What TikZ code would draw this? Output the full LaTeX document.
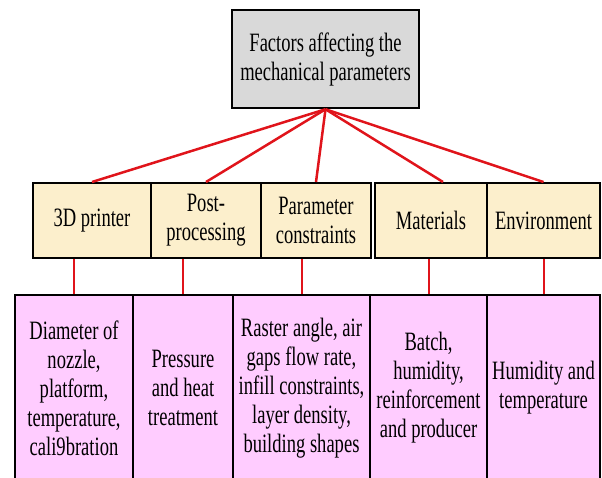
\documentclass[tikz,border=0pt]{standalone}
\usepackage{fontspec}
\setmainfont{Liberation Serif}
\newfontfamily\narrowserif{Liberation Serif}[FakeStretch=0.70]
\usepackage{tikz}
\usetikzlibrary{calc}
\tikzstyle{head} = [draw, line width=2.5pt, fill=HeadGray, minimum width=187pt, minimum height=98pt, align=center]
\tikzstyle{factor} = [draw, line width=2pt, fill=FactorCream, minimum height=75pt, align=center, inner sep=0pt]
\tikzstyle{detail} = [draw, line width=2pt, fill=DetailPink, minimum height=186pt, align=center, inner sep=0pt]
\tikzstyle{link} = [LinkRed, line width=2.5pt]
\definecolor{HeadGray}{HTML}{D9D9D9}
\definecolor{FactorCream}{HTML}{FCEFCC}
\definecolor{DetailPink}{HTML}{FFCCFF}
\definecolor{LinkRed}{HTML}{E0141B}
\newcommand{\boxfont}{\narrowserif\fontsize{26.5}{29}\selectfont}

\begin{document}
\begin{tikzpicture}[x=1pt, y=-1pt, every node/.style={font=\boxfont}]
	\clip (0,0) rectangle (602,478);
	\useasboundingbox (0,0) rectangle (602,478);

	% top
	\node[head] (head) at (325.5,59) {Factors affecting the\\mechanical parameters};

	% factors
	\node[factor, minimum width=118pt] (printer) at (92,220.5) {3D printer};
	\node[factor, minimum width=110pt] (post) at (206,220.5) {Post-\\processing};
	\node[factor, minimum width=110pt] (param) at (316,220.5) {Parameter\\constraints};
	\node[factor, minimum width=112pt] (mat) at (431,220.5) {Materials};
	\node[factor, minimum width=113pt] (env) at (543.5,220.5) {Environment};

	% details
	\node[detail, minimum width=118pt] (dprinter) at (74,388) {Diameter of\\nozzle,\\platform,\\temperature,\\cali9bration};
	\node[detail, minimum width=100pt] (dpost) at (183,388) {Pressure\\and heat\\treatment};
	\node[detail, minimum width=137pt] (dparam) at (301.5,388) {Raster angle, air\\gaps flow rate,\\infill constraints,\\layer density,\\building shapes};
	\node[detail, minimum width=117pt] (dmat) at (428.5,388) {Batch,\\humidity,\\reinforcement\\and producer};
	\node[detail, minimum width=113pt] (denv) at (543.5,388) {Humidity and\\temperature};

	% links
	\foreach \f in {printer,post,param,env} {
		\draw[link] (head.south) -- (\f.north);
	}
	\draw[link] (head.south) -- ([xshift=12pt]mat.north);
	\foreach \f/\d in {printer/dprinter,post/dpost,param/dparam,mat/dmat,env/denv} {
		\draw[link, line width=2pt] (\f.south -| \d.north) -- (\d.north);
	}
\end{tikzpicture}
\end{document}
